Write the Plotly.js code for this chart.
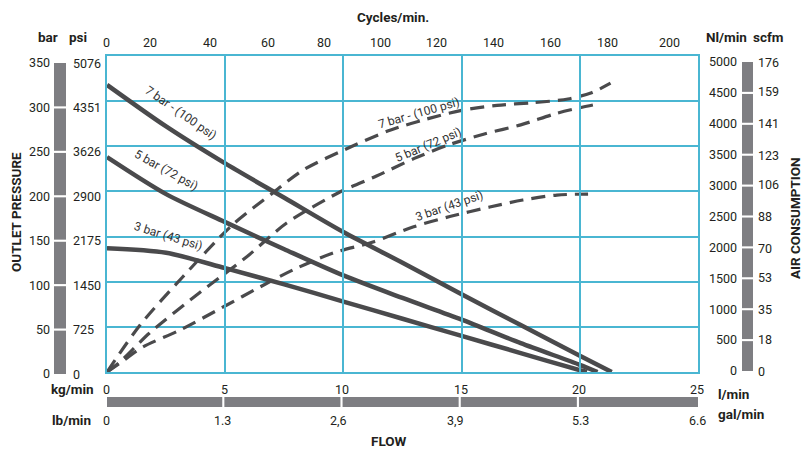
<!DOCTYPE html>
<html>
<head>
<meta charset="utf-8">
<script src="https://cdn.plot.ly/plotly-3.0.1.min.js"></script>
<style>html,body{margin:0;padding:0;background:#fff;}#chart{width:806px;height:450px;}</style>
</head>
<body>
<div id="chart"></div>
<script>
// ---------- data ----------
// Outlet pressure (bar) vs flow (l/min), solid curves
const p7Flow = [0, 2.5, 5, 7.5, 10, 12.5, 15, 17.5, 20, 21.35];
const p7Bar  = [318, 272, 231, 193, 155, 121, 86, 52, 18, 0];
const p5Flow = [0, 2.5, 5, 7.5, 10, 12.5, 15, 17.5, 20, 20.75];
const p5Bar  = [238, 197, 166, 136, 107, 82, 58, 32, 8, 0];
const p3Flow = [0, 2.5, 5, 7.5, 10, 12.5, 15, 17.5, 20, 20.3];
const p3Bar  = [137, 132, 115, 97, 78, 59, 40, 21, 2, 0];

// Air consumption (Nl/min) vs flow (l/min), dashed curves
const a7Flow = [0, 1.4, 3.2, 5.3, 7.0, 8.3, 10.3, 12.0, 13.5, 15.0, 16.5, 18.0, 19.5, 20.5, 21.3];
const a7Nl   = [0, 744, 1503, 2326, 2830, 3196, 3560, 3830, 4000, 4140, 4220, 4260, 4320, 4420, 4570];
const a5Flow = [0, 0.55, 1.8, 3.9, 5.9, 7.6, 9.85, 11.4, 13.0, 14.5, 16.0, 17.5, 19.0, 20.1, 20.75];
const a5Nl   = [0, 160, 617, 1250, 1819, 2357, 2848, 3100, 3380, 3600, 3770, 3910, 4090, 4190, 4240];
const a3Flow = [0, 0.55, 1.52, 3.09, 5.07, 6.47, 7.86, 9.56, 11.25, 12.94, 14.5, 16.19, 17.59, 19.03, 20.35];
const a3Nl   = [0, 142, 396, 664, 1060, 1345, 1614, 1883, 2057, 2294, 2460, 2610, 2721, 2800, 2816];

// Series labels
const solidLabels  = ['7 bar - (100 psi)', '5 bar (72 psi)', '3 bar (43 psi)'];
const dashedLabels = ['7 bar - (100 psi)', '5 bar (72 psi)', '3 bar (43 psi)'];

// Scales / tick labels
const flowTicks   = [0, 5, 10, 15, 20, 25];                 // l/min (kg/min)
const galTicks    = [0, 1.3, 2.6, 3.9, 5.3, 6.6];           // gal/min (lb/min)
const galTickText = ['0', '1.3', '2,6', '3,9', '5.3', '6.6'];
const barTicks    = [0, 50, 100, 150, 200, 250, 300, 350];
const psiTicks    = [0, 725, 1450, 2175, 2900, 3626, 4351, 5076];
const nlTicks     = [0, 500, 1000, 1500, 2000, 2500, 3000, 3500, 4000, 4500, 5000];
const scfmTicks   = [0, 18, 35, 53, 70, 88, 106, 123, 141, 159, 176];
const cycleTicks    = [0, 20, 40, 60, 80, 100, 120, 140, 160, 180, 200];
const cycleTickFlow = [0, 1.86, 4.40, 6.85, 9.22, 11.63, 14.00, 16.41, 18.82, 21.22, 23.85]; // flow (l/min) where each cycles label sits

// ---------- styling ----------
const W = 806, H = 450;
const px = v => v / W;
const py = v => 1 - v / H;
const FONT = "Roboto, 'Liberation Sans', sans-serif";
const GRID = '#4ab6d2';
const CURVE = '#4a4a4c';
const GREY = '#7e7e82';
const TXT = '#231f20';
const FLOW_MAX = 25, GAL_MAX = 6.6, BAR_MAX = 350, PSI_MAX = 5076, NL_MAX = 5000, SCFM_MAX = 176;

const solid = (x, y) => ({x, y, type: 'scatter', mode: 'lines', xaxis: 'x', yaxis: 'y',
  line: {color: CURVE, width: 4.5, shape: 'spline', smoothing: 0.8}, hoverinfo: 'skip'});
const dashed = (x, y) => ({x, y, type: 'scatter', mode: 'lines', xaxis: 'x', yaxis: 'y2',
  line: {color: CURVE, width: 3.2, dash: '14px,8px', shape: 'spline', smoothing: 0.8}, hoverinfo: 'skip'});

const traces = [
  solid(p7Flow, p7Bar), solid(p5Flow, p5Bar), solid(p3Flow, p3Bar),
  dashed(a7Flow, a7Nl), dashed(a5Flow, a5Nl), dashed(a3Flow, a3Nl)
];

const tickFont = {family: FONT, size: 12.5, color: TXT};
const hidden = {showgrid: false, zeroline: false, showline: false, ticks: ''};

// gray segmented scale bars
const shapes = [];
function vBar(yref, ticks, lo, hi, gap, x0, x1) {
  for (let i = 0; i < ticks.length - 1; i++) {
    const a = i === 0 ? lo : ticks[i] + gap;
    const b = i === ticks.length - 2 ? hi : ticks[i + 1] - gap;
    shapes.push({type: 'rect', xref: 'paper', yref, x0: px(x0), x1: px(x1), y0: a, y1: b,
      fillcolor: GREY, line: {width: 0}, layer: 'below'});
  }
}
vBar('y3', barTicks, -3, 354, 1.2, 54, 66);
vBar('y5', nlTicks, -25, 5020, 17, 742, 753);
for (let i = 0; i < flowTicks.length - 1; i++) {
  const a = i === 0 ? -0.13 : flowTicks[i] + 0.045 - 0.08;
  const b = i === flowTicks.length - 2 ? 25 : flowTicks[i + 1] - 0.045 - 0.08;
  shapes.push({type: 'rect', xref: 'x', yref: 'paper', x0: a, x1: b, y0: py(407), y1: py(397),
    fillcolor: GREY, line: {width: 0}, layer: 'below'});
}

const boldFont = (s) => ({family: FONT, size: s || 13.5, color: TXT, weight: 'bold'});
const txt = (text, x, y, opts) => Object.assign({text, xref: 'paper', yref: 'paper', x: px(x), y: py(y),
  showarrow: false, xanchor: 'center', yanchor: 'middle', font: boldFont()}, opts || {});
const curveFont = {family: FONT, size: 12, color: '#333'};

const annotations = [
  txt('bar', 48, 37), txt('psi', 78, 37),
  txt('Nl/min', 726, 37), txt('scfm', 768, 37),
  txt('Cycles/min.', 393, 17),
  txt('OUTLET PRESSURE', 16, 212, {textangle: -90}),
  txt('AIR CONSUMPTION', 795, 218, {textangle: -90}),
  txt('kg/min', 72, 389), txt('lb/min', 71, 420),
  txt('l/min', 733, 394), txt('gal/min', 741, 414),
  txt('FLOW', 389, 441),
  txt(solidLabels[0], 181, 113, {textangle: 35, font: curveFont}),
  txt(solidLabels[1], 166, 170, {textangle: 29, font: curveFont}),
  txt(solidLabels[2], 168, 236, {textangle: 17, font: curveFont}),
  txt(dashedLabels[0], 419, 113, {textangle: -16, font: curveFont}),
  txt(dashedLabels[1], 428, 145, {textangle: -23, font: curveFont}),
  txt(dashedLabels[2], 449, 206, {textangle: -19, font: curveFont})
];

// horizontal tick rows placed through the flow axis scale
const rowLabel = (text, xval, yPx) => ({text, xref: 'x', yref: 'paper', x: xval, y: py(yPx), xshift: -1,
  showarrow: false, xanchor: 'center', yanchor: 'middle', font: tickFont});
cycleTicks.forEach((c, i) => annotations.push(rowLabel(String(c), cycleTickFlow[i], 42)));
flowTicks.forEach(f => annotations.push(rowLabel(String(f), f, 389)));
galTicks.forEach((g, i) => annotations.push(rowLabel(galTickText[i], g / GAL_MAX * FLOW_MAX, 420)));

// psi and scfm columns placed through the bar / Nl scale axes
const colLabel = (text, yref, yval, xPx) => ({text, xref: 'paper', yref, x: px(xPx), y: yval,
  showarrow: false, xanchor: 'left', yanchor: 'middle', font: tickFont});
psiTicks.forEach(p => annotations.push(colLabel(String(p), 'y3', p / PSI_MAX * BAR_MAX, 71)));
scfmTicks.forEach(s => annotations.push(colLabel(String(s), 'y5', s / SCFM_MAX * NL_MAX, 756)));

const layout = {
  width: W, height: H,
  margin: {l: 0, r: 0, t: 0, b: 0, pad: 0},
  paper_bgcolor: '#fff', plot_bgcolor: 'rgba(0,0,0,0)',
  showlegend: false,
  font: {family: FONT, color: TXT},
  xaxis: {domain: [px(107), px(698)], range: [0, FLOW_MAX], anchor: 'y', tickmode: 'array', tickvals: flowTicks,
    showgrid: true, gridcolor: GRID, gridwidth: 2, showline: true, mirror: true, linecolor: GRID, linewidth: 2,
    showticklabels: false, zeroline: false, ticks: ''},
  yaxis: {domain: [py(372), py(56)], range: [0, BAR_MAX], anchor: 'x', tickmode: 'array', tickvals: barTicks,
    showgrid: true, gridcolor: GRID, gridwidth: 2, showline: true, mirror: true, linecolor: GRID, linewidth: 2,
    showticklabels: false, zeroline: false, ticks: ''},
  yaxis2: Object.assign({overlaying: 'y', side: 'right', anchor: 'x', range: [0, NL_MAX], showticklabels: false}, hidden),
  yaxis3: Object.assign({anchor: 'free', position: px(50), side: 'left', domain: [py(374), py(63)], range: [0, BAR_MAX],
    tickmode: 'array', tickvals: barTicks, tickfont: tickFont}, hidden),
  yaxis5: Object.assign({anchor: 'free', position: px(737), side: 'left', domain: [py(371), py(62)], range: [0, NL_MAX],
    tickmode: 'array', tickvals: nlTicks, tickfont: tickFont}, hidden),
  shapes, annotations
};

Plotly.newPlot('chart', traces, layout, {staticPlot: true, displayModeBar: false});
</script>
</body>
</html>
